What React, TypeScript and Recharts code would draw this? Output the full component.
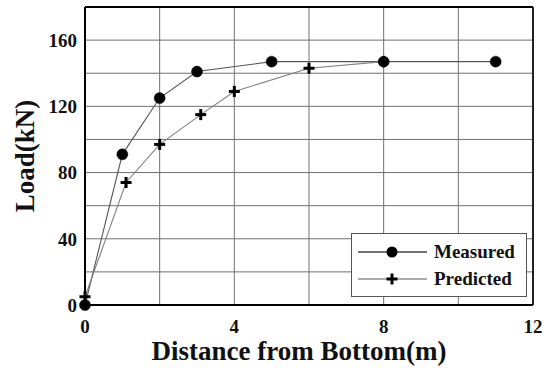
import React from 'react';
import { LineChart, Line, XAxis, YAxis, CartesianGrid, ReferenceLine } from 'recharts';

const measuredX = [0, 1, 2, 3, 5, 8, 11];
const measuredY = [0, 91, 125, 141, 147, 147, 147];
const predictedX = [0, 1.1, 2, 3.1, 4, 6, 8];
const predictedY = [5, 74, 97, 115, 129, 143, 147];
const xTicks = [0, 2, 4, 6, 8, 10, 12];
const yTicks = [0, 20, 40, 60, 80, 100, 120, 140, 160, 180];
const xLabelTicks = [0, 4, 8, 12];
const yLabelTicks = [0, 40, 80, 120, 160];
const seriesNames = ['Measured', 'Predicted'];

const measured = measuredX.map((x, i) => ({ x, y: measuredY[i] }));
const predicted = predictedX.map((x, i) => ({ x, y: predictedY[i] }));

const FONT = "'Liberation Serif', 'Times New Roman', 'DejaVu Serif', serif";
const MEAS_COLOR = '#555';
const PRED_COLOR = '#808080';

const PlusDot = (props: any) => {
  const { cx, cy, index } = props;
  if (cx == null || cy == null) return null;
  return (
    <g key={`p-${index}`}>
      <line x1={cx - 5.5} x2={cx + 5.5} y1={cy} y2={cy} stroke="#000" strokeWidth={3} />
      <line x1={cx} x2={cx} y1={cy - 5.5} y2={cy + 5.5} stroke="#000" strokeWidth={3} />
    </g>
  );
};

const LegendBox = () => {
  const rows = [
    { name: seriesNames[0], color: '#444', marker: 'circle' },
    { name: seriesNames[1], color: '#909090', marker: 'plus' },
  ];
  return (
    <div
      style={{
        position: 'absolute',
        left: 351,
        top: 233,
        width: 176,
        height: 64,
        boxSizing: 'border-box',
        border: '1.5px solid #555',
        background: '#fff',
        paddingTop: 4,
      }}
    >
      {rows.map((r) => (
        <div key={r.name} style={{ display: 'flex', alignItems: 'center', height: 27 }}>
          <svg width={82} height={20} style={{ display: 'block' }}>
            <line x1={6} x2={75} y1={10} y2={10} stroke={r.color} strokeWidth={1.5} />
            {r.marker === 'circle' ? (
              <circle cx={40} cy={10} r={5.5} fill="#000" />
            ) : (
              <g>
                <line x1={34.5} x2={45.5} y1={10} y2={10} stroke="#000" strokeWidth={3} />
                <line x1={40} x2={40} y1={4.5} y2={15.5} stroke="#000" strokeWidth={3} />
              </g>
            )}
          </svg>
          <span style={{ fontFamily: FONT, fontWeight: 'bold', fontSize: 19, color: '#111', lineHeight: '20px' }}>
            {r.name}
          </span>
        </div>
      ))}
    </div>
  );
};

export default function App() {
  return (
    <div style={{ position: 'absolute', left: 0, top: 0, width: 548, height: 370, background: '#fff' }}>
      <LineChart width={548} height={370} margin={{ top: 7, right: 15, bottom: 0, left: 0 }}>
        <CartesianGrid stroke="#707070" strokeWidth={1} />
        <XAxis
          type="number"
          dataKey="x"
          domain={[0, 12]}
          ticks={xTicks}
          interval={0}
          tickFormatter={(v: number) => (xLabelTicks.includes(v) ? String(v) : '')}
          tickLine={false}
          tickSize={0}
          tickMargin={15}
          height={65}
          axisLine={{ stroke: '#000', strokeWidth: 2 }}
          tick={{ fill: '#111', fontFamily: FONT, fontWeight: 'bold', fontSize: 19 }}
          label={{
            content: (p: any) => {
              const vb = p.viewBox;
              return (
                <text
                  x={vb.x + vb.width / 2 - 10}
                  y={vb.y + 46}
                  textAnchor="middle"
                  dominantBaseline="central"
                  fontFamily={FONT}
                  fontWeight="bold"
                  fontSize={27}
                  fill="#111"
                >
                  Distance from Bottom(m)
                </text>
              );
            },
          }}
        />
        <YAxis
          type="number"
          dataKey="y"
          domain={[0, 180]}
          ticks={yTicks}
          interval={0}
          tickFormatter={(v: number) => (yLabelTicks.includes(v) ? String(v) : '')}
          tickLine={false}
          tickSize={0}
          tickMargin={8}
          width={85}
          axisLine={{ stroke: '#000', strokeWidth: 2 }}
          tick={{ fill: '#111', fontFamily: FONT, fontWeight: 'bold', fontSize: 19 }}
          label={{
            content: (p: any) => {
              const vb = p.viewBox;
              const cx = vb.x + 25;
              const cy = vb.y + vb.height / 2;
              return (
                <text
                  x={cx}
                  y={cy}
                  transform={`rotate(-90 ${cx} ${cy})`}
                  textAnchor="middle"
                  dominantBaseline="central"
                  fontFamily={FONT}
                  fontWeight="bold"
                  fontSize={27}
                  fill="#111"
                >
                  Load(kN)
                </text>
              );
            },
          }}
        />
        <ReferenceLine y={180} stroke="#000" strokeWidth={2} />
        <ReferenceLine x={12} stroke="#222" strokeWidth={2} />
        <Line
          data={measured}
          dataKey="y"
          name={seriesNames[0]}
          stroke={MEAS_COLOR}
          strokeWidth={1.1}
          dot={{ r: 5.5, fill: '#000', stroke: '#000', strokeWidth: 0.5 }}
          isAnimationActive={false}
        />
        <Line
          data={predicted}
          dataKey="y"
          name={seriesNames[1]}
          stroke={PRED_COLOR}
          strokeWidth={1.1}
          dot={(props: any) => <PlusDot key={`pd-${props.index}`} {...props} />}
          isAnimationActive={false}
        />
      </LineChart>
      <LegendBox />
    </div>
  );
}
